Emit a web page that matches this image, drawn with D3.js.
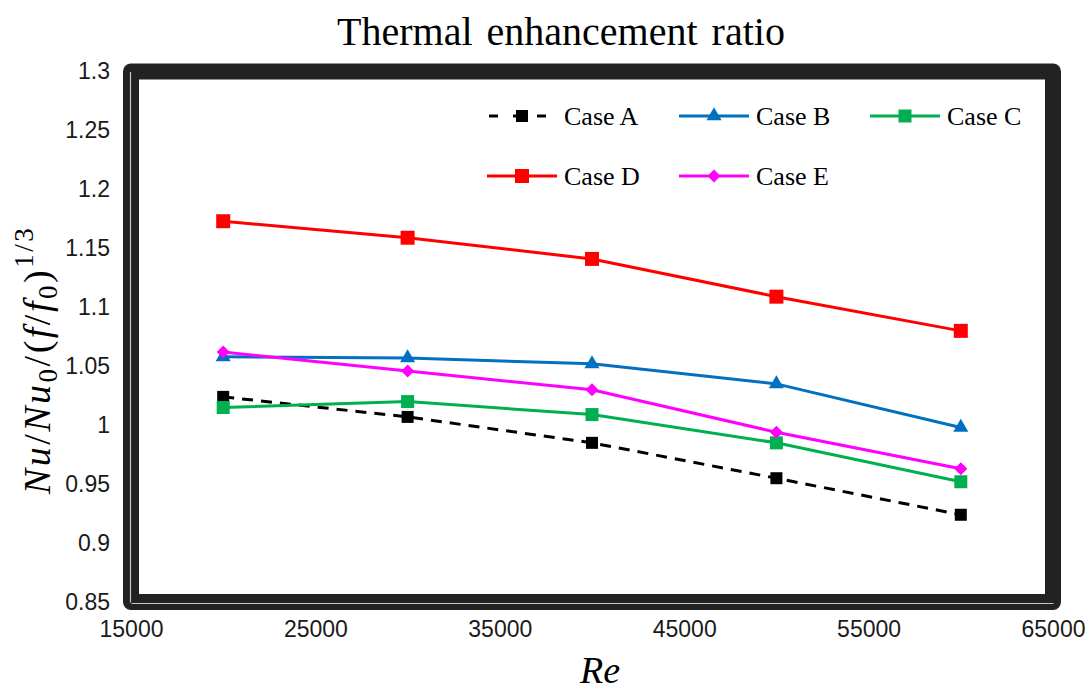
<!DOCTYPE html>
<html>
<head>
<meta charset="utf-8">
<script src="https://cdn.jsdelivr.net/npm/d3@7"></script>
<style>
  html, body { margin: 0; padding: 0; background: #fff; }
  svg { display: block; }
</style>
</head>
<body>
<svg id="chart" width="1090" height="693"></svg>
<script>
// Reynolds numbers tested
const reynolds = [20000, 30000, 40000, 50000, 60000];

// Thermal enhancement ratio Nu/Nu0 / (f/f0)^(1/3) per case
const caseA = [1.024, 1.007, 0.985, 0.955, 0.924];
const caseB = [1.058, 1.057, 1.052, 1.035, 0.998];
const caseC = [1.015, 1.020, 1.009, 0.985, 0.952];
const caseD = [1.173, 1.159, 1.141, 1.109, 1.080];
const caseE = [1.062, 1.046, 1.030, 0.994, 0.963];

const seriesNames = ["Case A", "Case B", "Case C", "Case D", "Case E"];

// Axis ticks
const xTicks = [15000, 25000, 35000, 45000, 55000, 65000];
const yTicks = [0.85, 0.9, 0.95, 1, 1.05, 1.1, 1.15, 1.2, 1.25, 1.3];
const yTickLabels = ["0.85", "0.9", "0.95", "1", "1.05", "1.1", "1.15", "1.2", "1.25", "1.3"];

const series = [
  { name: seriesNames[0], values: caseA, color: "#000000", dash: "11,8", marker: "square", size: 12 },
  { name: seriesNames[1], values: caseB, color: "#0070C0", dash: null, marker: "triangle", size: 14 },
  { name: seriesNames[2], values: caseC, color: "#00B050", dash: null, marker: "square", size: 13 },
  { name: seriesNames[3], values: caseD, color: "#FF0000", dash: null, marker: "square", size: 14 },
  { name: seriesNames[4], values: caseE, color: "#FF00FF", dash: null, marker: "diamond", size: 13 }
];

const svg = d3.select("#chart");
const plot = { left: 131, right: 1053, top: 71.5, bottom: 602 };

const x = d3.scaleLinear().domain([15000, 65000]).range([plot.left, plot.right]);
const y = d3.scaleLinear().domain([0.85, 1.3]).range([plot.bottom, plot.top]);

// Title
svg.append("text")
  .attr("x", 561).attr("y", 45)
  .attr("text-anchor", "middle")
  .style("font-family", "'Liberation Serif', 'Times New Roman', serif")
  .style("font-size", "40px")
  .style("word-spacing", "4px")
  .attr("fill", "#000")
  .text("Thermal enhancement ratio");

// Heavy frame around the plotting area
svg.append("rect")
  .attr("x", plot.left).attr("y", plot.top)
  .attr("width", plot.right - plot.left)
  .attr("height", plot.bottom - plot.top)
  .attr("fill", "none")
  .attr("stroke", "#222")
  .attr("stroke-width", 16)
  .attr("stroke-linejoin", "round");

// Axes
const tickFont = "'Liberation Sans', Arial, sans-serif";
const yAxis = svg.append("g")
  .attr("transform", `translate(${plot.left - 1},0)`)
  .call(d3.axisLeft(y).tickValues(yTicks).tickSize(0).tickPadding(20)
    .tickFormat((d, i) => yTickLabels[i]));
const xAxis = svg.append("g")
  .attr("transform", `translate(0,${plot.bottom + 1})`)
  .call(d3.axisBottom(x).tickValues(xTicks).tickSize(0).tickPadding(18)
    .tickFormat(d3.format("d")));

[yAxis, xAxis].forEach(g => {
  g.select(".domain").attr("stroke", "#c8c8c8").attr("stroke-width", 1.2);
  g.selectAll("text")
    .style("font-family", tickFont)
    .style("font-size", "23px")
    .attr("fill", "#1a1a1a");
});

// Lines and markers
const line = d3.line()
  .x((d, i) => x(reynolds[i]))
  .y(d => y(d));

function markerPath(type, size) {
  if (type === "triangle") return d3.symbol(d3.symbolTriangle, size * size * 0.5)();
  if (type === "diamond") return d3.symbol(d3.symbolSquare, size * size * 0.5)();
  return d3.symbol(d3.symbolSquare, size * size)();
}

const seriesG = svg.append("g");
series.forEach(s => {
  const g = seriesG.append("g");
  g.append("path")
    .datum(s.values)
    .attr("d", line)
    .attr("fill", "none")
    .attr("stroke", s.color)
    .attr("stroke-width", 3)
    .attr("stroke-dasharray", s.dash);
  g.selectAll(".pt")
    .data(s.values)
    .join("path")
    .attr("class", "pt")
    .attr("d", markerPath(s.marker, s.size))
    .attr("transform", (d, i) =>
      `translate(${x(reynolds[i])},${y(d)})` + (s.marker === "diamond" ? " rotate(45)" : ""))
    .attr("fill", s.color);
});

// Legend
const legendPos = [
  { x: 487, y: 116 }, { x: 679, y: 116 }, { x: 870, y: 116 },
  { x: 487, y: 176 }, { x: 679, y: 176 }
];
const legendG = svg.append("g");
series.forEach((s, i) => {
  const p = legendPos[i];
  const g = legendG.append("g").attr("transform", `translate(${p.x},${p.y})`);
  g.append("line")
    .attr("x1", 0).attr("x2", 70).attr("y1", 0).attr("y2", 0)
    .attr("stroke", s.color).attr("stroke-width", 3)
    .attr("stroke-dasharray", s.dash ? "9,15" : null)
    .attr("stroke-dashoffset", s.dash ? -2 : null);
  g.append("path")
    .attr("d", markerPath(s.marker, s.size))
    .attr("transform", "translate(35,0)" + (s.marker === "diamond" ? " rotate(45)" : ""))
    .attr("fill", s.color);
  g.append("text")
    .attr("x", 77).attr("y", 9)
    .style("font-family", "'Liberation Serif', 'Times New Roman', serif")
    .style("font-size", "26px")
    .attr("fill", "#000")
    .text(s.name);
});

// Axis titles
const mathFont = "'Liberation Serif', 'DejaVu Serif', serif";
const yTitle = svg.append("text")
  .attr("transform", "translate(50,360) rotate(-90)")
  .attr("text-anchor", "middle")
  .style("font-family", mathFont)
  .style("font-size", "38px")
  .style("letter-spacing", "2.5px")
  .attr("fill", "#000");
const parts = [
  { t: "Nu", it: true }, { t: "/", it: false }, { t: "Nu", it: true },
  { t: "0", it: false, sub: true }, { t: "/(", it: false }, { t: "f", it: true },
  { t: "/", it: false }, { t: "f", it: true }, { t: "0", it: false, sub: true },
  { t: ")", it: false }, { t: "1/3", it: false, sup: true }
];
let shift = 0;
parts.forEach(p => {
  const ts = yTitle.append("tspan").text(p.t)
    .style("font-style", p.it ? "italic" : "normal");
  const target = p.sub ? 7 : p.sup ? -17 : 0;
  ts.attr("dy", target - shift);
  shift = target;
  if (p.sub || p.sup) ts.style("font-size", "27px");
});

svg.append("text")
  .attr("x", 600).attr("y", 683)
  .attr("text-anchor", "middle")
  .style("font-family", mathFont)
  .style("font-style", "italic")
  .style("font-size", "38px")
  .attr("fill", "#000")
  .text("Re");
</script>
</body>
</html>
